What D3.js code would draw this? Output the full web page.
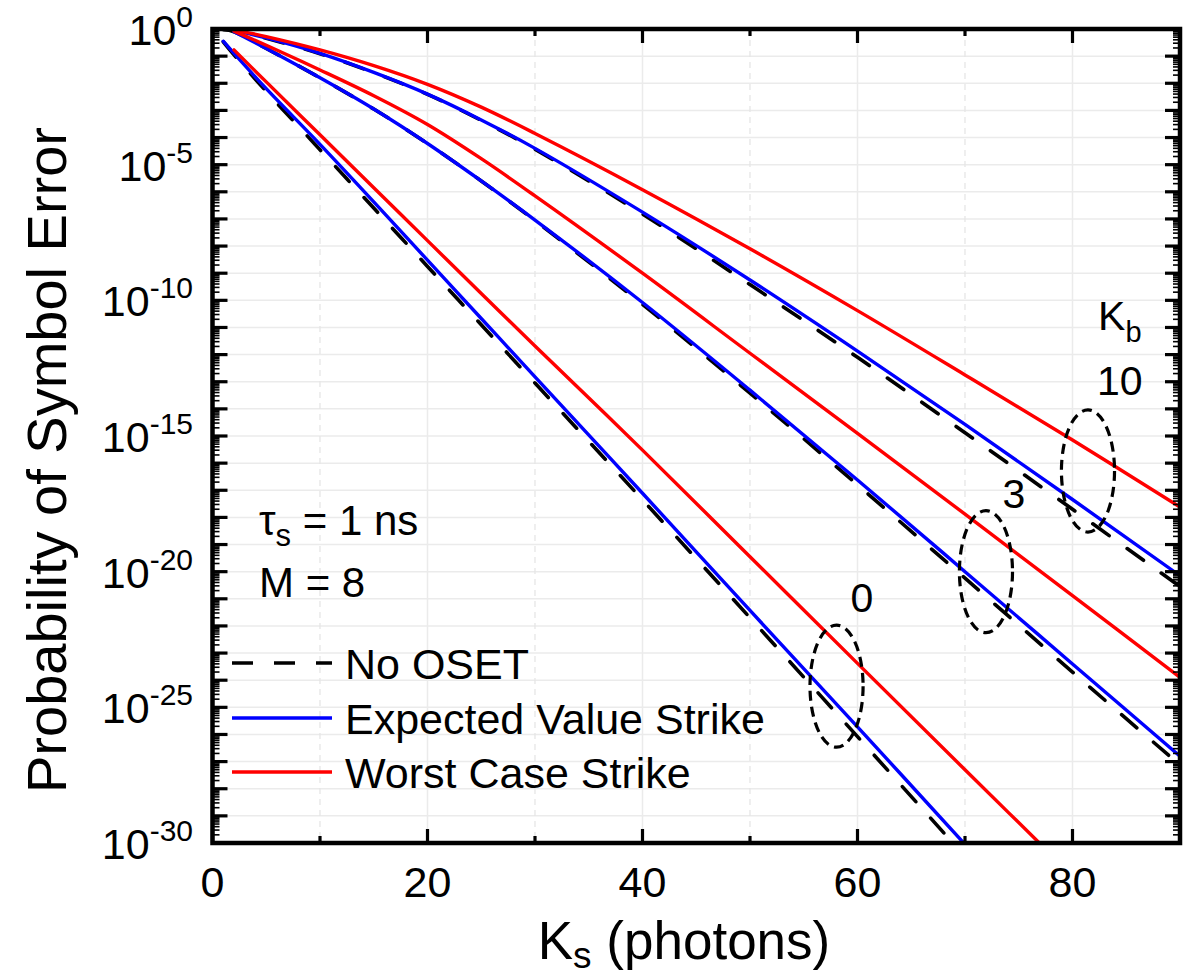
<!DOCTYPE html>
<html>
<head>
<meta charset="utf-8">
<script src="https://cdn.jsdelivr.net/npm/d3@7"></script>
<style>
  body { margin: 0; background: #fff; }
  svg { display: block; }
  text { font-family: "Liberation Sans", Arial, Helvetica, sans-serif; fill: #000; }
</style>
</head>
<body>
<svg id="chart" width="1188" height="978"></svg>
<script>
// Signal photon counts K_s at which each curve is sampled
const ks = [1, 2, 5, 10, 15, 20, 25, 30, 40, 50, 60, 70, 80, 90];

// log10 of the probability of symbol error (null = not plotted)
// K_b = 0
const noOset0    = [-0.47, -0.95, -2.30, -4.45, -6.60, -8.75, -10.90, -13.05, -17.35, -21.70, -26.08, -30.50, null, null];
const expected0  = [-0.45, -0.90, -2.20, -4.25, -6.37, -8.52, -10.67, -12.82, -17.11, -21.43, -25.72, -30.05, null, null];
const worst0     = [null, -0.77, -1.95, -3.90, -5.85, -7.80, -9.75, -11.68, -15.52, -19.45, -23.38, -27.30, -31.20, null];
// K_b = 3
const noOset3    = [-0.02, -0.10, -0.72, -1.80, -2.95, -4.22, -5.60, -7.06, -10.15, -13.42, -16.80, -20.24, -23.70, -27.13];
const expected3  = [null, -0.10, -0.72, -1.80, -2.95, -4.22, -5.60, -7.04, -10.08, -13.31, -16.62, -20.00, -23.40, -26.80];
const worst3     = [null, -0.08, -0.60, -1.51, -2.46, -3.52, -4.78, -6.15, -9.00, -11.95, -14.90, -17.88, -20.88, -23.90];
// K_b = 10
const noOset10   = [-0.02, -0.05, -0.34, -0.91, -1.61, -2.41, -3.37, -4.43, -6.82, -9.42, -12.10, -14.88, -17.70, -20.55];
const expected10 = [null, -0.05, -0.33, -0.90, -1.60, -2.40, -3.35, -4.40, -6.75, -9.25, -11.87, -14.57, -17.34, -20.15];
const worst10    = [null, -0.03, -0.28, -0.77, -1.35, -2.04, -2.88, -3.85, -5.92, -8.10, -10.38, -12.75, -15.15, -17.62];

// Axis ticks
const xTicks = [0, 20, 40, 60, 80];
const xMinorTicks = [10, 30, 50, 70, 90];
const yLabelExps = [0, -5, -10, -15, -20, -25, -30];

// Legend entries
const legendNames = ["No OSET", "Expected Value Strike", "Worst Case Strike"];

// K_b group markers: label, ellipse centre (K_s, log10 Pse), label anchor
const groupLabels = ["0", "3", "10"];
const ellipseK = [58.05, 71.95, 81.44];
const ellipseLogP = [-24.22, -20.0, -16.29];
const labelK = [60.42, 74.56, 84.4];
const labelLogP = [-21.49, -17.66, -13.49];

const svg = d3.select("#chart");
const L = 212.5, R = 1180, T = 29, B = 843;

const x = d3.scaleLinear().domain([0, 90]).range([L, R]);
const y = d3.scaleLog().domain([1e-30, 1]).range([B, T]);

const styles = {
  none:     { stroke: "#000000", width: 3.6, dash: "20,22" },
  expected: { stroke: "#0000ff", width: 3.4, dash: null },
  worst:    { stroke: "#ff0000", width: 3.4, dash: null }
};

// ---- grid ----
const grid = svg.append("g");
for (let e = -29; e <= -1; e++) {
  grid.append("line")
    .attr("x1", L).attr("x2", R)
    .attr("y1", y(Math.pow(10, e))).attr("y2", y(Math.pow(10, e)))
    .attr("stroke", "#ebebeb").attr("stroke-width", 1.5);
}
xTicks.filter(v => v > 0).forEach(v => {
  grid.append("line").attr("x1", x(v)).attr("x2", x(v)).attr("y1", T).attr("y2", B)
    .attr("stroke", "#ebebeb").attr("stroke-width", 1.5);
});
xMinorTicks.filter(v => v < 90).forEach(v => {
  grid.append("line").attr("x1", x(v)).attr("x2", x(v)).attr("y1", T).attr("y2", B)
    .attr("stroke", "#e6e6e6").attr("stroke-width", 1.3).attr("stroke-dasharray", "6,5");
});

// ---- curves ----
svg.append("clipPath").attr("id", "plotClip")
  .append("rect").attr("x", L).attr("y", T).attr("width", R - L).attr("height", B - T);

const line = d3.line()
  .defined(d => d[1] !== null)
  .x(d => x(d[0]))
  .y(d => y(Math.pow(10, d[1])))
  .curve(d3.curveCatmullRom.alpha(0.5));

const series = [
  { vals: noOset0, kind: "none" }, { vals: noOset3, kind: "none" }, { vals: noOset10, kind: "none" },
  { vals: expected0, kind: "expected" }, { vals: expected3, kind: "expected" }, { vals: expected10, kind: "expected" },
  { vals: worst0, kind: "worst" }, { vals: worst3, kind: "worst" }, { vals: worst10, kind: "worst" }
];

const curves = svg.append("g").attr("clip-path", "url(#plotClip)");
series.forEach(s => {
  const st = styles[s.kind];
  const pts = ks.map((k, i) => [k, s.vals[i]]).filter(d => d[1] !== null);
  curves.append("path")
    .attr("d", line(pts))
    .attr("fill", "none")
    .attr("stroke", st.stroke)
    .attr("stroke-width", st.width)
    .attr("stroke-linecap", "round")
    .attr("stroke-dasharray", st.dash);
});

// ---- K_b group ellipses and labels ----
const ann = svg.append("g");
groupLabels.forEach((lab, i) => {
  const cx = x(ellipseK[i]);
  const cy = y(Math.pow(10, ellipseLogP[i]));
  const rx = x(ellipseK[i] + 2.47) - cx;
  const ry = y(Math.pow(10, ellipseLogP[i] - 2.25)) - cy;
  ann.append("ellipse")
    .attr("cx", cx).attr("cy", cy).attr("rx", rx).attr("ry", ry)
    .attr("fill", "none").attr("stroke", "#000").attr("stroke-width", 3.2)
    .attr("stroke-dasharray", "10,6");
  ann.append("text")
    .attr("x", x(labelK[i])).attr("y", y(Math.pow(10, labelLogP[i])))
    .attr("text-anchor", "middle").attr("font-size", 41)
    .text(lab);
});
const kb = ann.append("text")
  .attr("x", x(84.4)).attr("y", y(Math.pow(10, -11.09)))
  .attr("text-anchor", "middle").attr("font-size", 41);
kb.append("tspan").text("K");
kb.append("tspan").attr("font-size", 29).attr("dy", 12).text("b");

// ---- parameter text ----
const p1 = svg.append("text").attr("x", 259).attr("y", 535).attr("font-size", 42);
p1.append("tspan").text("τ");
p1.append("tspan").attr("font-size", 31).attr("dy", 11).text("s");
p1.append("tspan").attr("dy", -11).text(" = 1 ns");
svg.append("text").attr("x", 259).attr("y", 597).attr("font-size", 42).text("M = 8");

// ---- legend ----
const legendY = [663, 718, 772];
const legendKinds = ["none", "expected", "worst"];
legendNames.forEach((name, i) => {
  const st = styles[legendKinds[i]];
  svg.append("line")
    .attr("x1", 232).attr("x2", 332).attr("y1", legendY[i]).attr("y2", legendY[i])
    .attr("stroke", st.stroke).attr("stroke-width", st.width)
    .attr("stroke-dasharray", st.dash ? "21,21" : null);
  svg.append("text").attr("x", 345).attr("y", legendY[i] + 16)
    .attr("font-size", 43).text(name);
});

// ---- frame and ticks ----
const axes = svg.append("g").attr("stroke", "#000");
// x ticks (bottom and top, pointing inward)
xTicks.forEach(v => {
  axes.append("line").attr("x1", x(v)).attr("x2", x(v)).attr("y1", B).attr("y2", B - 14).attr("stroke-width", 3.2);
  axes.append("line").attr("x1", x(v)).attr("x2", x(v)).attr("y1", T).attr("y2", T + 14).attr("stroke-width", 3.2);
});
xMinorTicks.forEach(v => {
  axes.append("line").attr("x1", x(v)).attr("x2", x(v)).attr("y1", B).attr("y2", B - 7).attr("stroke-width", 3.2);
  axes.append("line").attr("x1", x(v)).attr("x2", x(v)).attr("y1", T).attr("y2", T + 7).attr("stroke-width", 3.2);
});
// y ticks (left and right, pointing inward), major each decade, minor at 2..9
for (let e = -30; e <= 0; e++) {
  const yy = y(Math.pow(10, e));
  axes.append("line").attr("x1", L).attr("x2", L + 15).attr("y1", yy).attr("y2", yy).attr("stroke-width", 3.2);
  axes.append("line").attr("x1", R).attr("x2", R - 15).attr("y1", yy).attr("y2", yy).attr("stroke-width", 3.2);
  if (e < 0) {
    for (let m = 2; m <= 9; m++) {
      const ym = y(m * Math.pow(10, e));
      axes.append("line").attr("x1", L).attr("x2", L + 7).attr("y1", ym).attr("y2", ym).attr("stroke-width", 1.6);
      axes.append("line").attr("x1", R).attr("x2", R - 7).attr("y1", ym).attr("y2", ym).attr("stroke-width", 1.6);
    }
  }
}
svg.append("rect").attr("x", L).attr("y", T).attr("width", R - L).attr("height", B - T)
  .attr("fill", "none").attr("stroke", "#000").attr("stroke-width", 4.5);

// ---- tick labels ----
xTicks.forEach(v => {
  svg.append("text").attr("x", x(v)).attr("y", 897)
    .attr("text-anchor", "middle").attr("font-size", 43).text(v);
});
yLabelExps.forEach(e => {
  const t = svg.append("text").attr("x", 193).attr("y", y(Math.pow(10, e)) + 16)
    .attr("text-anchor", "end").attr("font-size", 43);
  t.append("tspan").text("10");
  t.append("tspan").attr("font-size", 30).attr("dy", -18).text(e);
});

// ---- axis titles ----
const xt = svg.append("text").attr("x", 684).attr("y", 959)
  .attr("text-anchor", "middle").attr("font-size", 53);
xt.append("tspan").text("K");
xt.append("tspan").attr("font-size", 37).attr("dy", 9).text("s");
xt.append("tspan").attr("dy", -9).text(" (photons)");

svg.append("text")
  .attr("transform", "translate(66," + ((T + B) / 2 + 24) + ") rotate(-90)")
  .attr("text-anchor", "middle").attr("font-size", 56)
  .text("Probability of Symbol Error");
</script>
</body>
</html>
